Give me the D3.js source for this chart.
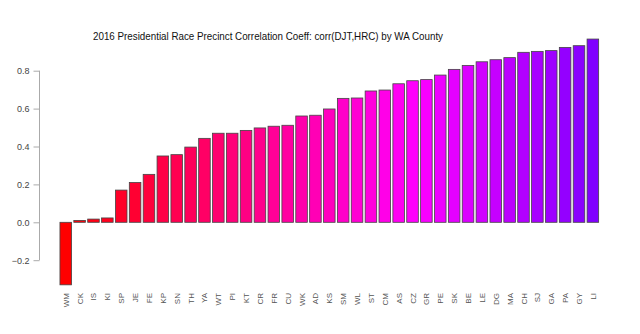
<!DOCTYPE html>
<html>
<head>
<meta charset="utf-8">
<script src="https://cdn.jsdelivr.net/npm/d3@7"></script>
<style>
  body { margin: 0; background: #ffffff; }
  svg { display: block; font-family: "Liberation Sans", Arial, sans-serif; }
</style>
</head>
<body>
<div id="chart"></div>
<script>
// DATA ------------------------------------------------------------
let counties = [
  "WM", "CK", "IS", "KI", "SP", "JE", "FE", "KP", "SN", "TH",
  "YA", "WT", "PI", "KT", "CR", "FR", "CU", "WK", "AD", "KS",
  "SM", "WL", "ST", "CM", "AS", "CZ", "GR", "PE", "SK", "BE",
  "LE", "DG", "MA", "CH", "SJ", "GA", "PA", "GY", "LI",
];
let corr_values = [
  -0.33, 0.01, 0.017, 0.023, 0.17, 0.21, 0.253, 0.35, 0.357, 0.397,
  0.443, 0.47, 0.47, 0.485, 0.498, 0.507, 0.512, 0.561, 0.565, 0.598,
  0.654, 0.656, 0.693, 0.698, 0.731, 0.747, 0.753, 0.777, 0.807, 0.828,
  0.847, 0.858, 0.869, 0.897, 0.902, 0.906, 0.923, 0.932, 0.967,
];
let y_ticks = [-0.2, 0, 0.2, 0.4, 0.6, 0.8];
let title_text =
  "2016 Presidential Race Precinct Correlation Coeff: corr(DJT,HRC) by WA County";

let data = counties.map((c, i) => ({ county: c, value: corr_values[i] }));

// LAYOUT ----------------------------------------------------------
let width = 640;
let height = 334;

let svg = d3
  .select("#chart")
  .append("svg")
  .attr("width", width)
  .attr("height", height);

// x: R-style barplot, space 0.2 before each bar
let x = d3
  .scaleBand()
  .domain(counties)
  .range([58.8, 599.8])
  .paddingInner(1 / 6)
  .paddingOuter(1 / 12);

let y = d3.scaleLinear().domain([-0.2, 0.8]).range([260.2, 70.7]);

// colour runs by rank: hue 360 (red) -> 270 (violet)
let hue = d3.scaleLinear().domain([0, counties.length - 1]).range([360, 270]);

// title
svg
  .append("text")
  .attr("x", 268)
  .attr("y", 39.5)
  .attr("text-anchor", "middle")
  .attr("font-size", "11.5px")
  .attr("textLength", 350)
  .attr("lengthAdjust", "spacingAndGlyphs")
  .attr("fill", "#111")
  .text(title_text);

// y axis
let y_axis = svg
  .append("g")
  .attr("transform", "translate(39.5,0)")
  .call(
    d3
      .axisLeft(y)
      .tickValues(y_ticks)
      .tickSize(6)
      .tickPadding(4)
      .tickFormat(d3.format(".1f"))
  );

y_axis.selectAll("path, line").attr("stroke", "#aaa");
y_axis
  .selectAll("text")
  .attr("fill", "#444")
  .attr("font-size", "9px")
  .attr("font-family", "Liberation Sans, Arial, sans-serif");
// plain axis line, no end caps
y_axis.select(".domain").attr("d", `M0,${y(-0.2)}V${y(0.8)}`);

// bars
svg
  .selectAll("rect.bar")
  .data(data)
  .enter()
  .append("rect")
  .attr("class", "bar")
  .attr("x", (d) => x(d.county))
  .attr("width", x.bandwidth())
  .attr("y", (d) => Math.min(y(d.value), y(0)))
  .attr("height", (d) => Math.abs(y(d.value) - y(0)))
  .attr("fill", (d, i) => d3.hsl(hue(i) % 360, 1, 0.5))
  .attr("stroke", "#444")
  .attr("stroke-width", 0.8);

// rotated county labels
svg
  .selectAll("text.county")
  .data(data)
  .enter()
  .append("text")
  .attr("class", "county")
  .attr("transform", (d) => {
    let cx = x(d.county) + x.bandwidth() / 2 + 3;
    return `translate(${cx},293) rotate(-90)`;
  })
  .attr("text-anchor", "end")
  .attr("font-size", "8px")
  .attr("fill", "#555")
  .text((d) => d.county);
</script>
</body>
</html>
